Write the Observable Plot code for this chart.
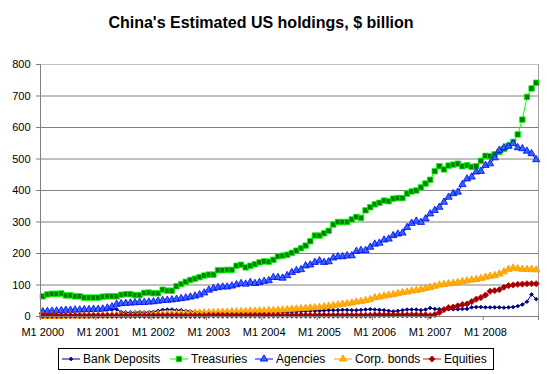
<!DOCTYPE html>
<html><head><meta charset="utf-8">
<script src="https://cdn.jsdelivr.net/npm/d3@7"></script>
<script src="https://cdn.jsdelivr.net/npm/@observablehq/plot@0.6"></script>
<style>
body{margin:0;background:#fff;font-family:"Liberation Sans",Arial,sans-serif;}
#wrap{position:relative;width:547px;height:374px;overflow:hidden;background:#fff}
#title{position:absolute;left:0;width:522px;top:14px;text-align:center;font-weight:bold;font-size:16px;color:#000}
#legend{position:absolute;left:58px;top:348px;width:436px;height:22px;border:1px solid #000;box-sizing:border-box;font-size:12px;color:#000}
.item{position:absolute;top:1px;height:18px;display:flex;align-items:center;white-space:nowrap}
.item svg{margin-right:3px}
</style></head>
<body><div id="wrap"><div id="chart"></div><div id="title">China's Estimated US holdings, $ billion</div><div id="legend"></div></div>
<script>
const seriesNames = ["Bank Deposits", "Treasuries", "Agencies", "Corp. bonds", "Equities"];
const tickLabels = ["M1 2000","M1 2001","M1 2002","M1 2003","M1 2004","M1 2005","M1 2006","M1 2007","M1 2008"];
const yTicks = [0,100,200,300,400,500,600,700,800];

const bankDeposits = [
 15,15,16,16,17,17,18,18,19,19,20,20,
 20,21,21,22,23,14,13,13,13,14,13,14,
 15,18,21,22,22,20,20,18,17,15,14,13,
 12,12,12,11,11,11,10,10,10,10,11,11,
 12,12,13,13,14,14,15,15,16,17,18,18,
 18,19,20,20,20,21,21,20,20,21,22,23,
 22,21,20,18,16,18,20,22,22,22,20,22,
 27,24,23,23,23,23,23,24,24,29,30,30,
 29,29,29,29,28,29,30,33,38,47,70,55];
const treasuries = [
 64,70,72,72,73,67,67,64,64,60,60,60,
 60,63,64,64,64,69,71,71,68,68,75,76,
 74,74,85,82,82,96,103,110,116,120,125,130,
 133,133,147,147,148,148,161,164,156,161,166,172,
 175,174,180,191,193,196,202,209,217,225,239,257,
 257,264,272,292,300,300,300,308,316,313,337,347,
 356,361,368,366,374,376,376,390,397,400,410,422,
 434,461,477,467,479,482,485,477,480,475,477,494,
 510,509,515,522,532,542,554,578,625,697,724,742];
const agencies = [
 15,16,17,18,19,20,20,21,21,22,22,23,
 23,24,27,31,39,41,42,43,44,45,45,46,
 47,49,51,52,53,55,57,59,62,65,69,75,
 84,89,92,94,94,97,101,105,103,108,105,108,
 112,114,124,124,122,130,140,146,149,161,164,172,
 177,172,174,186,190,190,193,193,207,210,210,220,
 230,233,243,246,257,262,265,283,296,303,299,310,
 326,337,347,363,379,390,395,419,437,443,459,461,
 480,485,504,528,536,541,549,536,533,525,517,498];
const corpBonds = [
 1,1,1,1,1,2,2,2,2,2,2,3,
 3,3,3,3,4,4,4,4,5,5,5,6,
 6,7,7,8,8,9,9,10,10,11,11,12,
 12,13,13,14,14,15,15,16,16,17,17,18,
 18,19,19,20,21,22,23,24,25,26,27,28,
 29,31,33,35,37,39,41,43,46,48,51,54,
 60,62,65,68,70,73,76,78,81,83,86,89,
 92,96,100,102,104,106,108,111,113,116,118,121,
 125,128,130,135,142,150,154,152,150,150,150,148];
const equities = [
 3,3,3,3,3,3,3,3,3,3,3,3,
 3,3,3,3,3,3,3,3,3,3,3,3,
 3,3,3,3,3,3,3,3,3,3,3,3,
 4,4,4,4,4,4,4,4,4,4,4,4,
 4,4,4,4,4,4,4,4,4,4,4,4,
 4,4,4,4,4,4,4,4,4,4,4,4,
 5,5,5,5,5,5,5,5,5,5,5,5,
 3,6,13,22,28,30,34,38,40,47,55,60,
 68,80,82,85,93,98,100,102,103,104,104,104];

const seriesValues = [bankDeposits, treasuries, agencies, corpBonds, equities];
const styles = [
  {line:"#000080", symbol:"diamond2", r:1.7, fill:"#000080", stroke:"#000080"},
  {line:"#00FF00", symbol:"square", r:3.1, fill:"#008000", stroke:"#00FF00"},
  {line:"#0000FF", symbol:"triangle", r:2.7, fill:"#3366FF", stroke:"#0000FF"},
  {line:"#FF9900", symbol:"triangle", r:2.7, fill:"#FFB000", stroke:"#FF9900"},
  {line:"#FF0000", symbol:"diamond2", r:2.8, fill:"#990000", stroke:"#CC0000"}
];

const marks = [];
marks.push(Plot.gridY(yTicks.filter(d => d > 0 && d < 800), {stroke:"#808080", strokeOpacity:1}));
marks.push(Plot.ruleY([800], {stroke:"#C0C0C0"}));
marks.push(Plot.ruleX([107.5], {stroke:"#A0A0A0"}));
seriesValues.forEach((vals, s) => {
  const data = vals.map((v, i) => ({i, v}));
  const st = styles[s];
  marks.push(Plot.line(data, {x:"i", y:"v", stroke: st.line, strokeWidth: 1}));
  marks.push(Plot.dot(data, {x:"i", y:"v", symbol: st.symbol, r: st.r, fill: st.fill, stroke: st.stroke, strokeWidth: 0.8}));
});
marks.push(Plot.ruleX([-0.5], {stroke:"#808080"}));
marks.push(Plot.ruleY([0], {stroke:"#808080"}));
marks.push(Plot.axisY({ticks: yTicks, label: null, tickSize: 4, tickPadding: 6, fontSize: 11, stroke:"#808080", tickFormat: d => String(d)}));
marks.push(Plot.axisX({ticks: tickLabels.map((_, k) => k * 12 - 0.5).concat([107.5]), label: null, tickSize: 4, tickFormat: () => "", stroke:"#808080"}));
marks.push(Plot.axisX({ticks: tickLabels.map((_, k) => k * 12), label: null, tickSize: 0, tickPadding: 12, fontSize: 11, tickFormat: d => tickLabels[d / 12]}));

const chart = Plot.plot({
  width: 547, height: 374,
  marginLeft: 40, marginRight: 9, marginTop: 64, marginBottom: 58,
  style: {fontFamily: '"Liberation Sans", Arial, sans-serif', color:"#000", background:"#fff"},
  x: {type:"linear", domain:[-0.5, 107.5], axis: null},
  y: {domain:[0, 800], axis: null},
  marks
});
document.getElementById("chart").appendChild(chart);

// Legend
const legendX = [3, 111, 196, 275, 364];
const leg = document.getElementById("legend");
seriesNames.forEach((name, s) => {
  const st = styles[s];
  const item = document.createElement("div");
  item.className = "item";
  item.style.left = legendX[s] + "px";
  const sym = d3.symbol().type({diamond2: d3.symbolDiamond2, square: d3.symbolSquare, triangle: d3.symbolTriangle}[st.symbol]).size(Math.PI * st.r * st.r)();
  item.innerHTML = `<svg width="18" height="12"><line x1="0" x2="18" y1="6" y2="6" stroke="${st.line}"/><path d="${sym}" transform="translate(9,6)" fill="${st.fill}" stroke="${st.stroke}" stroke-width="0.8"/></svg><span>${name}</span>`;
  leg.appendChild(item);
});
</script>
</body></html>
